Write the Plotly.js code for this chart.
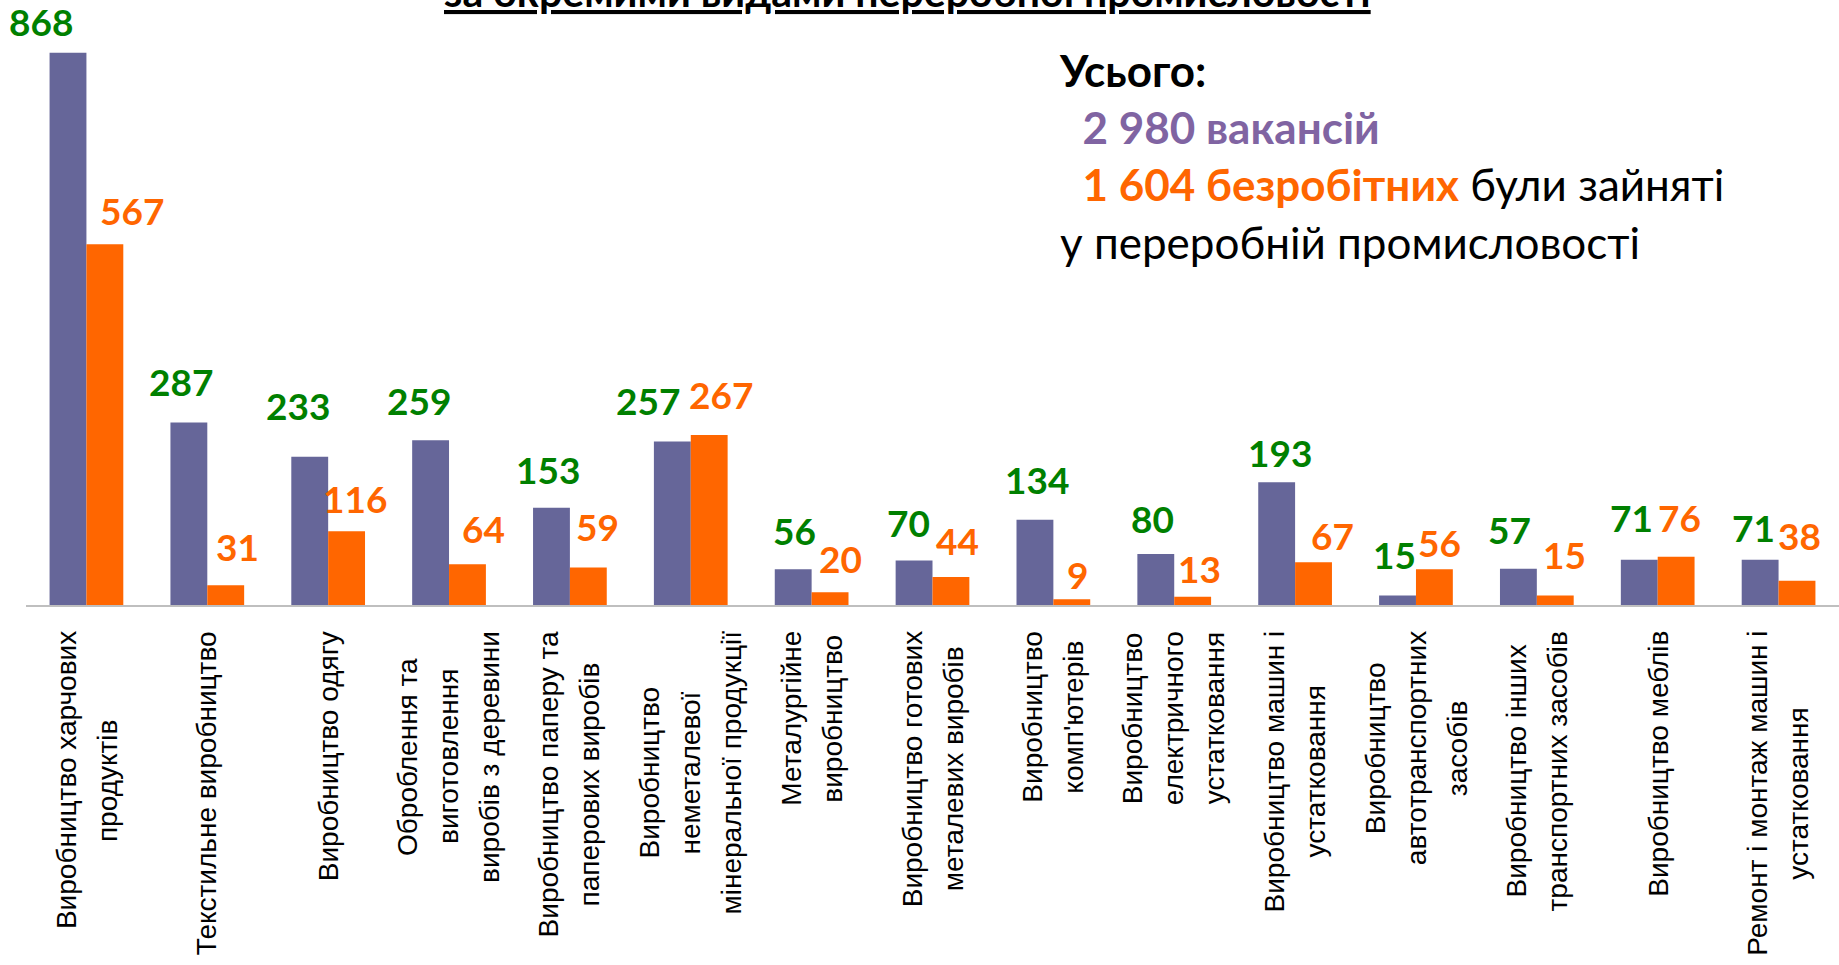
<!DOCTYPE html>
<html>
<head>
<meta charset="utf-8">
<script src="https://cdn.plot.ly/plotly-3.0.1.min.js"></script>
<style>
html, body { margin: 0; padding: 0; background: #ffffff; overflow: hidden; }
#chart { width: 1839px; height: 965px; }
</style>
</head>
<body>
<div id="chart"></div>
<script>
// ---------- DATA ----------
const categories = [
  "Виробництво харчових продуктів",
  "Текстильне виробництво",
  "Виробництво одягу",
  "Оброблення та виготовлення виробів з деревини",
  "Виробництво паперу та паперових виробів",
  "Виробництво неметалевої мінеральної продукції",
  "Металургійне виробництво",
  "Виробництво готових металевих виробів",
  "Виробництво комп'ютерів",
  "Виробництво електричного устатковання",
  "Виробництво машин і устатковання",
  "Виробництво автотранспортних засобів",
  "Виробництво інших транспортних засобів",
  "Виробництво меблів",
  "Ремонт і монтаж машин і устатковання"
];
const tickLabels = [
  "Виробництво харчових<br>продуктів",
  "Текстильне виробництво",
  "Виробництво одягу",
  "Оброблення та<br>виготовлення<br>виробів з деревини",
  "Виробництво паперу та<br>паперових виробів",
  "Виробництво<br>неметалевої<br>мінеральної продукції",
  "Металургійне<br>виробництво",
  "Виробництво готових<br>металевих виробів",
  "Виробництво<br>комп'ютерів",
  "Виробництво<br>електричного<br>устатковання",
  "Виробництво машин і<br>устатковання",
  "Виробництво<br>автотранспортних<br>засобів",
  "Виробництво інших<br>транспортних засобів",
  "Виробництво меблів",
  "Ремонт і монтаж машин і<br>устатковання"
];
const vacancies  = [868, 287, 233, 259, 153, 257, 56, 70, 134, 80, 193, 15, 57, 71, 71];
const unemployed = [567, 31, 116, 64, 59, 267, 20, 44, 9, 13, 67, 56, 15, 76, 38];
const totalVacancies = "2 980";
const totalUnemployed = "1 604";
const titleLine = "за окремими видами переробної промисловості";

// ---------- STYLE / GEOMETRY ----------
const W = 1839, H = 965;
const M = { l: 26, r: 0, t: 20, b: 360 };
const plotW = W - M.l - M.r, plotH = H - M.t - M.b;
const yMax = 919.4;
const bargap = 0.39;
const catW = plotW / categories.length;
const barOff = (1 - bargap) * catW / 4;   // centre of each bar from category centre

const purple = "#666699", orange = "#FF6600", green = "#008000";
const numFont = "Lato, 'Open Sans', sans-serif";
const labFont = "'Liberation Sans', Arial, sans-serif";

// manual nudges of the data labels (px): horizontal from bar centre, vertical centre above bar top
const vacDx = [-27, -8, -12, -12, -3, -24, 1, -6, 2, -3, 3, -3, -9, -8, -7];
const vacDy = [31, 41, 51, 40, 38, 41, 39, 38, 40, 36, 30, 41, 39, 42, 32];
const unDx  = [27, 12, 8, 16, 9, 12, 10, 7, 6, 7, 19, 5, 9, 3, 2];
const unDy  = [34, 39, 33, 36, 41, 41, 34, 37, 25, 28, 27, 27, 41, 39, 45];

const xp = px => (px - M.l) / plotW;
const yp = py => 1 - (py - M.t) / plotH;

const traces = [
  { type: "bar", x: categories, y: vacancies, marker: { color: purple }, hoverinfo: "none", name: "вакансії" },
  { type: "bar", x: categories, y: unemployed, marker: { color: orange }, hoverinfo: "none", name: "безробітні" }
];

const annotations = [];

// value labels
vacancies.forEach((v, i) => {
  annotations.push({
    x: categories[i], y: v, xref: "x", yref: "y",
    text: "<b>" + v + "</b>", showarrow: false,
    xanchor: "center", yanchor: "middle",
    xshift: -barOff + vacDx[i], yshift: vacDy[i],
    font: { family: numFont, size: 37, color: green, weight: 700 }
  });
});
unemployed.forEach((v, i) => {
  annotations.push({
    x: categories[i], y: v, xref: "x", yref: "y",
    text: "<b>" + v + "</b>", showarrow: false,
    xanchor: "center", yanchor: "middle",
    xshift: barOff + unDx[i], yshift: unDy[i],
    font: { family: numFont, size: 37, color: orange, weight: 700 }
  });
});

// category labels, rotated, each line centred, top of block just under the axis
const labSize = 28, lineGap = 41, topGap = 26;
const ctx = document.createElement("canvas").getContext("2d");
ctx.font = labSize + "px 'Liberation Sans'";
tickLabels.forEach((lab, i) => {
  const lines = lab.split("<br>");
  const maxW = Math.max(...lines.map(s => ctx.measureText(s).width));
  lines.forEach((s, j) => {
    annotations.push({
      x: categories[i], y: 0, xref: "x", yref: "paper",
      text: s, showarrow: false, textangle: -90,
      xanchor: "center", yanchor: "middle",
      xshift: (j - (lines.length - 1) / 2) * lineGap,
      yshift: -(topGap + maxW / 2),
      font: { family: labFont, size: labSize, color: "#000000" }
    });
  });
});

// partially visible title line at the very top
annotations.push({
  x: xp(907), y: yp(18), xref: "paper", yref: "paper",
  xanchor: "center", yanchor: "bottom", showarrow: false,
  text: "<b><u>" + titleLine + "</u></b>",
  font: { family: numFont, size: 41, color: "#000000" }
});

// totals block
const nb = "\u00a0\u00a0";
annotations.push({
  x: xp(1057), y: yp(42), xref: "paper", yref: "paper",
  xanchor: "left", yanchor: "top", align: "left", showarrow: false,
  text: "<b>Усього:</b><br>" +
        nb + "<b><span style='color:#8064A2'>" + totalVacancies + " вакансій</span></b><br>" +
        nb + "<b><span style='color:#FF6600'>" + totalUnemployed + " безробітних</span></b> були зайняті<br>" +
        "у переробній промисловості",
  font: { family: numFont, size: 44, color: "#000000" }
});

const layout = {
  width: W, height: H,
  margin: M,
  paper_bgcolor: "#ffffff", plot_bgcolor: "#ffffff",
  barmode: "group", bargap: bargap, bargroupgap: 0,
  showlegend: false,
  xaxis: {
    type: "category", range: [-0.5, categories.length - 0.5], autorange: false,
    showticklabels: false, ticks: "",
    showline: true, linecolor: "#BFBFBF", linewidth: 2,
    showgrid: false, zeroline: false, fixedrange: true
  },
  yaxis: {
    range: [0, yMax], autorange: false, visible: false, showgrid: false, zeroline: false, fixedrange: true
  },
  annotations: annotations
};

Plotly.newPlot("chart", traces, layout, { staticPlot: true, displayModeBar: false });
</script>
</body>
</html>
